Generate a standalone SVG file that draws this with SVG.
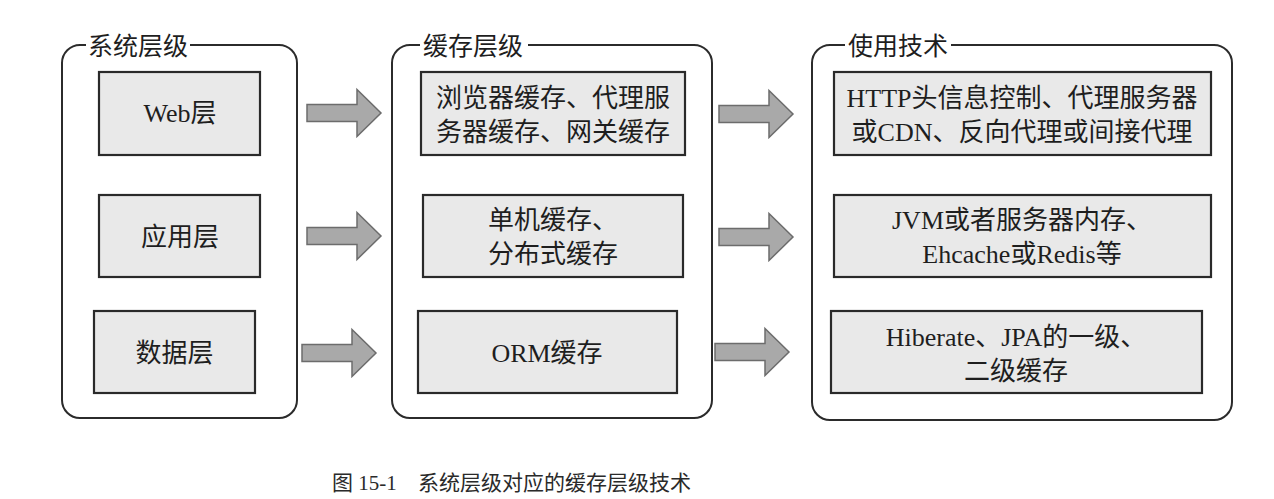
<svg xmlns="http://www.w3.org/2000/svg" width="1274" height="499" viewBox="0 0 1274 499">
<style>
.bg{fill:#ffffff}
.frame{fill:none;stroke:#2b2b2b;stroke-width:2}
.box{fill:#e9e9e9;stroke:#2a2a2a;stroke-width:2.2}
.title{font-family:"Noto Sans CJK SC","Noto Sans",sans-serif;font-size:25px;fill:#1e1e1e}
.t{font-family:"Liberation Serif","Noto Sans CJK SC",serif;font-size:26px;fill:#1e1e1e;text-anchor:middle}
.arrow{fill:#a9a9a9;stroke:#6c6c6c;stroke-width:1.5;stroke-linejoin:miter}
.cap{font-family:"Liberation Serif","Noto Sans CJK SC",serif;font-size:21px;fill:#2a2a2a}
</style>
<defs>
<polygon id="arr" points="0,-8.5 50,-8.5 50,-23.5 74,0 50,23.5 50,8.5 0,8.5"/>
</defs>
<rect class="bg" x="0" y="0" width="1274" height="499"/>

<g id="col-system">
<path class="frame" d="M190,45 H279 A18,18 0 0 1 297,63 V400 A18,18 0 0 1 279,418 H80 A18,18 0 0 1 62,400 V63 A18,18 0 0 1 80,45 H86"/>
<text class="title" x="88" y="55">系统层级</text>
</g>
<g id="col-cache">
<path class="frame" d="M528,45 H694 A18,18 0 0 1 712,63 V400 A18,18 0 0 1 694,418 H410 A18,18 0 0 1 392,400 V63 A18,18 0 0 1 410,45 H420"/>
<text class="title" x="423" y="55">缓存层级</text>
</g>
<g id="col-tech">
<path class="frame" d="M951,45 H1214 A18,18 0 0 1 1232,63 V402 A18,18 0 0 1 1214,420 H830 A18,18 0 0 1 812,402 V63 A18,18 0 0 1 830,45 H845"/>
<text class="title" x="848" y="55">使用技术</text>
</g>

<g id="web">
<rect class="box" x="99" y="72" width="161" height="83"/>
<text class="t" x="180" y="122">Web层</text>
</g>
<g id="app">
<rect class="box" x="99" y="195" width="161" height="82"/>
<text class="t" x="180" y="246">应用层</text>
</g>
<g id="data">
<rect class="box" x="94" y="311" width="161" height="82"/>
<text class="t" x="174.5" y="362">数据层</text>
</g>

<g id="cache-web">
<rect class="box" x="421" y="72" width="264" height="83"/>
<text class="t" x="553" y="107">浏览器缓存、代理服</text>
<text class="t" x="553" y="141">务器缓存、网关缓存</text>
</g>
<g id="cache-app">
<rect class="box" x="423" y="195" width="260" height="82"/>
<text class="t" x="553" y="229">单机缓存、</text>
<text class="t" x="553" y="263">分布式缓存</text>
</g>
<g id="cache-data">
<rect class="box" x="418" y="311" width="259" height="82"/>
<text class="t" x="547" y="362">ORM缓存</text>
</g>

<g id="tech-web">
<rect class="box" x="834" y="72" width="377" height="83"/>
<text class="t" x="1022" y="107">HTTP头信息控制、代理服务器</text>
<text class="t" x="1022" y="141">或CDN、反向代理或间接代理</text>
</g>
<g id="tech-app">
<rect class="box" x="834" y="195" width="377" height="82"/>
<text class="t" x="1022" y="229">JVM或者服务器内存、</text>
<text class="t" x="1022" y="263">Ehcache或Redis等</text>
</g>
<g id="tech-data">
<rect class="box" x="831" y="311" width="371" height="82"/>
<text class="t" x="1016" y="346">Hiberate、JPA的一级、</text>
<text class="t" x="1016" y="380">二级缓存</text>
</g>

<g id="connectors">
<use href="#arr" class="arrow" transform="translate(307,113)"/>
<use href="#arr" class="arrow" transform="translate(307,236)"/>
<use href="#arr" class="arrow" transform="translate(302,353)"/>
<use href="#arr" class="arrow" transform="translate(719,114)"/>
<use href="#arr" class="arrow" transform="translate(719,237)"/>
<use href="#arr" class="arrow" transform="translate(715,352)"/>
</g>

<g id="caption">
<text class="cap" x="332" y="490">图 15-1</text>
<text class="cap" x="418" y="490">系统层级对应的缓存层级技术</text>
</g>
</svg>
